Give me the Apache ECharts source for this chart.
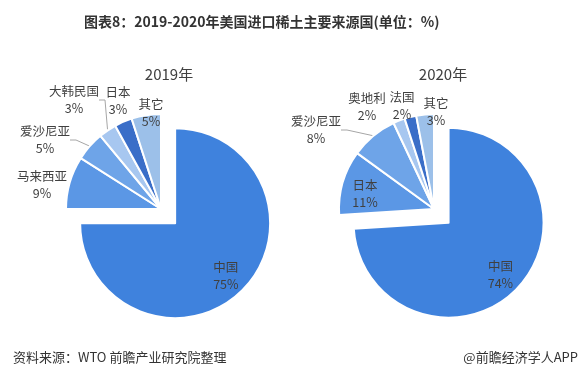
<!DOCTYPE html>
<html>
<head>
<meta charset="utf-8">
<script src="https://cdn.jsdelivr.net/npm/echarts@6/dist/echarts.min.js"></script>
<style>
  html, body { margin: 0; padding: 0; background: #fff; }
  #chart { width: 585px; height: 376px; }
</style>
</head>
<body>
<div id="chart"></div>
<script>
  // 2019年 数据
  const names2019 = ['中国', '马来西亚', '爱沙尼亚', '大韩民国', '日本', '其它']
  const values2019 = [75, 9, 5, 3, 3, 5]
  // 2020年 数据
  const names2020 = ['中国', '日本', '爱沙尼亚', '奥地利', '法国', '其它']
  const values2020 = [74, 11, 8, 2, 2, 3]

  const sliceColors = ['#3f82dd', '#5b97e5', '#6ea4e8', '#a7c7f0', '#3a6ec8', '#9cc0e9']
  const font = '"Noto Sans CJK SC", "Microsoft YaHei", sans-serif'

  // 小扇区标签摆放位置（仿 Excel 最佳匹配），中国标签放在扇区内部
  const labelSpots2019 = [null, [42, 185], [45, 140], [74, 100], [118, 101], [151, 113]]
  const labelLines2019 = [false, false, true, true, false, false]
  const labelSpots2020 = [null, [365, 194], [316, 130], [367, 107], [402, 106], [436, 112]]
  const labelLines2020 = [false, false, true, false, true, false]

  function buildData (names, values, lines) {
    return names.map(function (n, i) {
      const item = {
        name: n,
        value: values[i],
        itemStyle: { color: sliceColors[i] },
        labelLine: { show: lines[i] }
      }
      if (i === 0) {
        item.selected = true
        item.label = { position: 'inner' }
      }
      return item
    })
  }

  function pieSeries (names, values, center, spots, lines) {
    return {
      type: 'pie',
      center: center,
      radius: 95,
      startAngle: 90,
      clockwise: true,
      selectedMode: 'single',
      selectedOffset: 20,
      avoidLabelOverlap: false,
      itemStyle: { borderColor: '#fff', borderWidth: 2 },
      label: {
        formatter: '{b}\n{c}%',
        color: '#404040',
        fontSize: 12.5,
        lineHeight: 17,
        fontFamily: font,
        overflow: 'none'
      },
      labelLine: {
        length: 6,
        length2: 6,
        lineStyle: { color: '#a6a6a6', width: 1 }
      },
      labelLayout: function (p) {
        const s = spots[p.dataIndex]
        if (!s) return { dx: 15, dy: 17 } // 中国（内部标签）略向外移
        return { x: s[0], y: s[1], align: 'center', verticalAlign: 'middle' }
      },
      emphasis: { disabled: true },
      data: buildData(names, values, lines)
    }
  }

  const chart = echarts.init(document.getElementById('chart'))
  chart.setOption({
    animation: false,
    title: [
      {
        text: '图表8：2019-2020年美国进口稀土主要来源国(单位：%)',
        left: 79, top: 10,
        textStyle: { fontSize: 14, fontWeight: 'bold', color: '#333', fontFamily: font }
      },
      {
        text: '2019年', left: 164, top: 62, textAlign: 'center',
        textStyle: { fontSize: 15, fontWeight: 'normal', color: '#404040', fontFamily: font }
      },
      {
        text: '2020年', left: 438, top: 62, textAlign: 'center',
        textStyle: { fontSize: 15, fontWeight: 'normal', color: '#404040', fontFamily: font }
      },
      {
        text: '资料来源：WTO 前瞻产业研究院整理', left: 8, top: 346,
        textStyle: { fontSize: 13, fontWeight: 'normal', color: '#333', fontFamily: font }
      },
      {
        text: '@前瞻经济学人APP', right: 2, top: 346,
        textStyle: { fontSize: 13, fontWeight: 'normal', color: '#333', fontFamily: font }
      }
    ],
    series: [
      pieSeries(names2019, values2019, [161, 209], labelSpots2019, labelLines2019),
      pieSeries(names2020, values2020, [434, 209], labelSpots2020, labelLines2020)
    ]
  })
</script>
</body>
</html>
